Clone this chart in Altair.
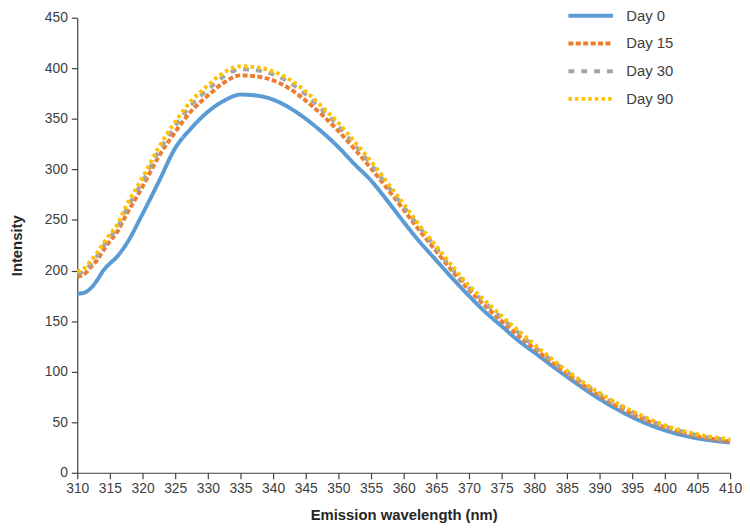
import altair as alt
import pandas as pd

wavelength = [310, 311, 312, 313, 314, 315, 316, 317.5, 320, 322.5, 325, 327.5, 330,
              332.5, 335, 337.5, 340, 342.5, 345, 347.5, 350, 352.5, 355, 357.5, 360,
              362.5, 365, 367.5, 370, 372.5, 375, 377.5, 380, 385, 390, 395, 400, 405, 410]

day0 = [177, 178, 182, 190, 200, 207, 213, 226, 256, 288, 321, 341, 357,
        368, 374, 373, 369, 361, 350, 337, 322, 305, 289, 269, 248,
        228, 210, 192, 175, 159, 145, 131, 119, 95, 73, 55, 42, 34, 30]

day15 = [194, 196, 203, 210, 220, 229, 237, 255, 283, 313, 337, 358, 373,
         386, 393, 392, 388, 380, 368, 354, 338, 320, 301, 281, 260,
         239, 219, 199, 181, 165, 150, 136, 123, 98, 76, 58, 45, 36, 31]

day30 = [197, 199, 206, 214, 224, 233, 241, 260, 288, 318, 343, 364, 379,
         392, 399, 398, 394, 386, 374, 359, 343, 324, 305, 284, 263,
         242, 222, 201, 183, 168, 153, 139, 125, 100, 78, 60, 46, 37, 32]

day90 = [199, 202, 209, 217, 227, 236, 244, 264, 292, 322, 347, 368, 383,
         396, 402, 401, 397, 389, 377, 362, 346, 327, 308, 287, 266,
         244, 224, 204, 185, 170, 155, 141, 127, 101, 79, 61, 47, 38, 33]

series_names = ["Day 0", "Day 15", "Day 30", "Day 90"]
series_values = [day0, day15, day30, day90]
colors = ["#5B9BD5", "#ED7D31", "#A5A5A5", "#FFC000"]
dashes = [[1, 0], [5, 2.5], [6, 7], [3.5, 3.2]]

rows = []
for name, vals in zip(series_names, series_values):
    for w, v in zip(wavelength, vals):
        rows.append({"wavelength": w, "intensity": v, "series": name})
df = pd.DataFrame(rows)

font = "Liberation Sans"

color_enc = alt.Color(
    "series:N",
    scale=alt.Scale(domain=series_names, range=colors),
    sort=series_names,
    legend=alt.Legend(
        title=None,
        orient="none",
        legendX=507,
        legendY=-14,
        symbolType="M-2.25,0H2.25",
        symbolSize=400,
        symbolStrokeWidth=4,
        labelFontSize=15,
        labelFont=font,
        labelColor="#404040",
        labelOffset=24,
        rowPadding=8,
        padding=0,
    ),
)
dash_enc = alt.StrokeDash(
    "series:N",
    scale=alt.Scale(domain=series_names, range=dashes),
    sort=series_names,
    legend=None,
)

x_enc = alt.X(
    "wavelength:Q",
    scale=alt.Scale(domain=[310, 410], nice=False),
    axis=alt.Axis(
        title="Emission wavelength (nm)",
        values=list(range(310, 411, 5)),
        grid=False,
        tickSize=6,
        labelPadding=3,
        labelOverlap=False,
        labelFlush=False,
        titlePadding=12,
    ),
)
y_enc = alt.Y(
    "intensity:Q",
    scale=alt.Scale(domain=[0, 450], nice=False),
    axis=alt.Axis(
        title="Intensity",
        values=list(range(0, 451, 50)),
        grid=False,
        tickSize=6,
        labelPadding=4,
        labelOverlap=False,
        titlePadding=20,
    ),
)

layers = []
for name in series_names:
    layers.append(
        alt.Chart(df)
        .transform_filter(alt.datum.series == name)
        .mark_line(strokeWidth=4, interpolate="monotone")
        .encode(x=x_enc, y=y_enc, color=color_enc, strokeDash=dash_enc)
    )

chart = (
    alt.layer(*layers)
    .properties(
        width=660,
        height=460,
        autosize=alt.AutoSizeParams(type="none"),
        padding={"left": 70, "top": 7, "right": 12, "bottom": 56},
        background="white",
    )
    .configure_view(stroke=None)
    .configure_axis(
        labelFont=font,
        labelFontSize=14,
        labelColor="#404040",
        titleFont=font,
        titleFontSize=15,
        titleFontWeight="bold",
        titleColor="#262626",
        domainColor="#404040",
        tickColor="#404040",
        domainWidth=1.2,
        tickWidth=1.2,
    )
)

chart.save("out.html", embed_options={"renderer": "svg", "actions": False})
